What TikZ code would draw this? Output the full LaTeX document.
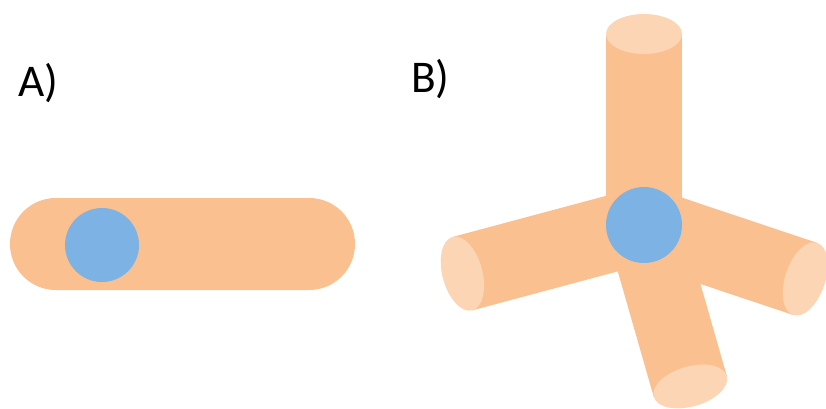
\documentclass[tikz,border=0pt]{standalone}
\usepackage{fontspec}
\setmainfont{Carlito}

\definecolor{rodbody}{RGB}{251,192,144}
\definecolor{rodend}{RGB}{252,214,180}
\definecolor{nucleus}{RGB}{124,179,228}

\begin{document}
\begin{tikzpicture}[
    x=0.75pt, y=-0.75pt,
    every node/.style={font=\fontsize{34}{40}\selectfont, inner sep=0pt, anchor=base west},
    body/.style={fill=rodbody},
    endcap/.style={fill=rodend},
    core/.style={fill=nucleus}
]
\useasboundingbox (0,0) rectangle (826,408);

% Labels
\node (labelA) at (18,96) {A)};
\node (labelB) at (411,92) {B)};

% A) single rod with the core near one end
\fill[body, rounded corners=34.4pt] (10,198) rectangle (355,290);
\fill[core] (102,245) circle (37);

% B) four rods joined at the core
\foreach \ang/\len in {90/191, 195/188, -18.5/170, -74/168}{
  \begin{scope}[shift={(644,225)}, rotate=\ang]
    \fill[body] (0,-38) rectangle (\len,38);
  \end{scope}
}
\foreach \ang/\len in {90/191, 195/188, -18.5/170, -74/168}{
  \begin{scope}[shift={(644,225)}, rotate=\ang]
    \fill[endcap] (\len,0) ellipse [x radius=20, y radius=38];
  \end{scope}
}
\fill[core] (644,225) circle (38);

\end{tikzpicture}
\end{document}
